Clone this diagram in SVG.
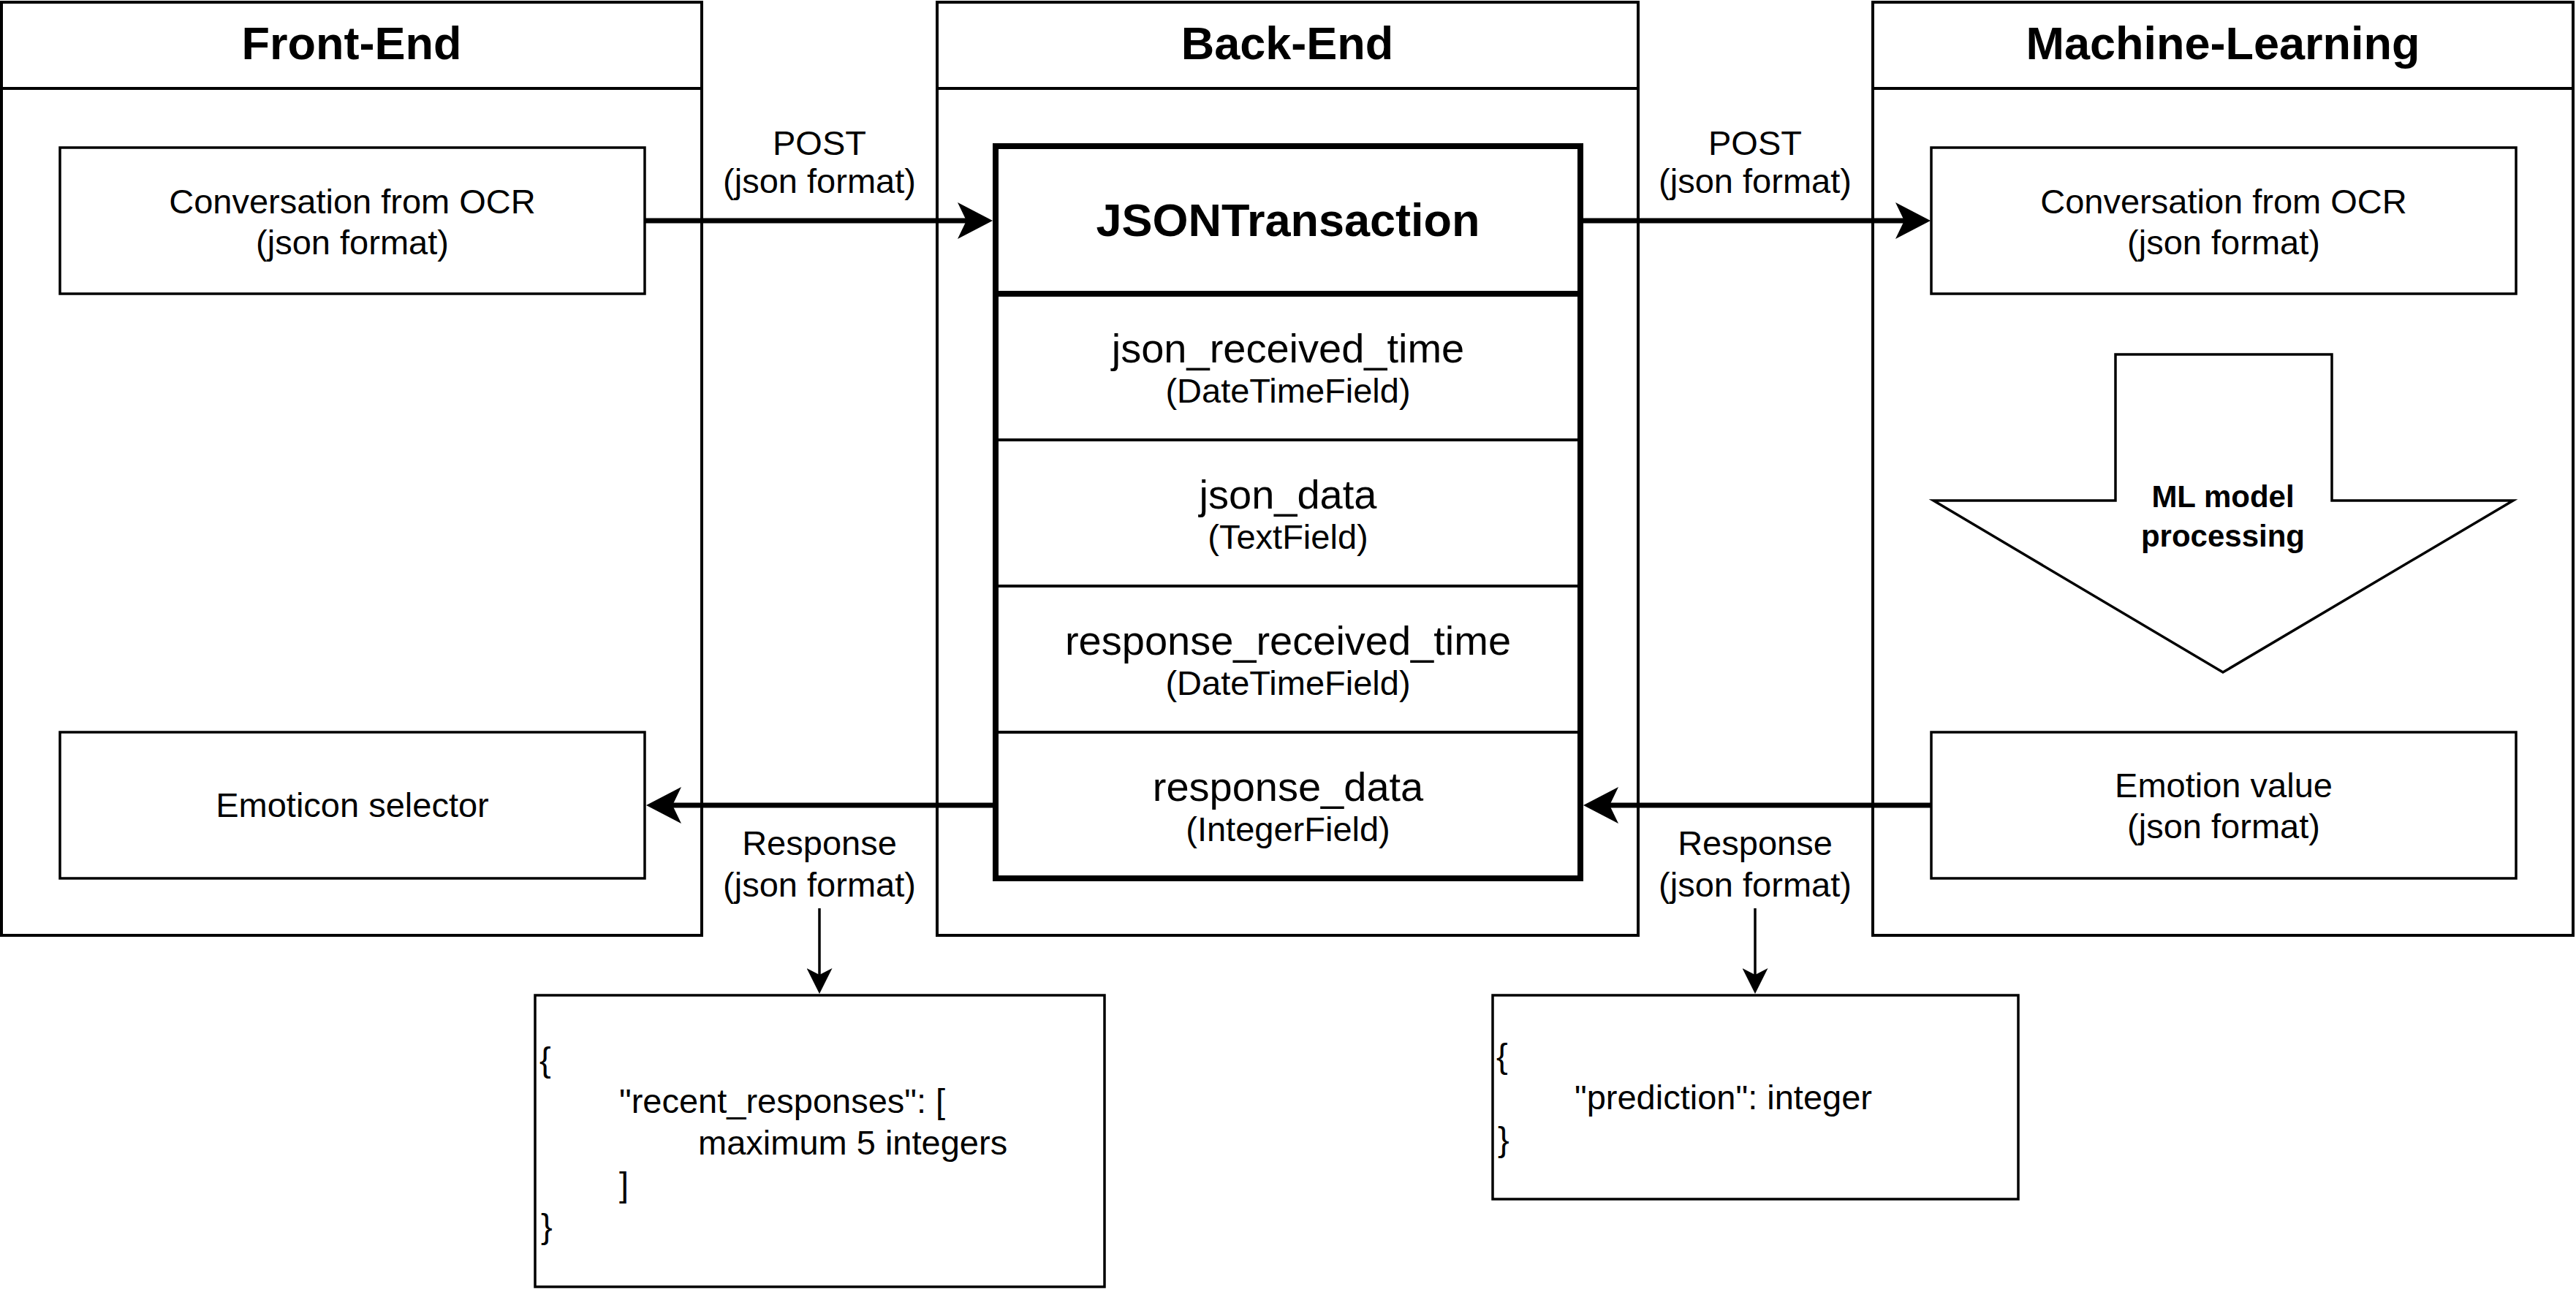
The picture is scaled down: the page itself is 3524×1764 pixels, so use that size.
<svg xmlns="http://www.w3.org/2000/svg" width="3524" height="1764" viewBox="0 0 3524 1764">
<style>
text{font-family:"Liberation Sans",Arial,Helvetica,sans-serif;fill:#000}
.lane{fill:#fff;stroke:#000;stroke-width:4}
.box{fill:#fff;stroke:#000;stroke-width:3.5}
.title{font-size:63px;font-weight:bold;text-anchor:middle}
.t{font-size:47px;text-anchor:middle}
.tl{font-size:47px}
.f{font-size:56px;text-anchor:middle}
.thick{fill:none;stroke:#000;stroke-width:7}
.thin{fill:none;stroke:#000;stroke-width:3.5}
</style>
<defs>
<marker id="ahThick" markerUnits="userSpaceOnUse" markerWidth="48" markerHeight="50" viewBox="0 0 48 50" refX="12" refY="25" orient="auto">
<path d="M0,0 L48,25 L0,50 L12,25 Z" fill="#000"/>
</marker>
<marker id="ahThin" markerUnits="userSpaceOnUse" markerWidth="35" markerHeight="35" viewBox="0 0 35 35" refX="9" refY="17.5" orient="auto">
<path d="M0,0 L35,17.5 L0,35 L9,17.5 Z" fill="#000"/>
</marker>
</defs>
<rect width="3524" height="1764" fill="#fff"/>

<g id="lane-frontend">
<rect class="lane" x="2" y="3" width="958" height="1277"/>
<line x1="2" y1="121" x2="960" y2="121" stroke="#000" stroke-width="4"/>
<text class="title" x="481" y="81">Front-End</text>
</g>
<g id="lane-backend">
<rect class="lane" x="1282" y="3" width="959" height="1277"/>
<line x1="1282" y1="121" x2="2241" y2="121" stroke="#000" stroke-width="4"/>
<text class="title" x="1761" y="81">Back-End</text>
</g>
<g id="lane-ml">
<rect class="lane" x="2562" y="3" width="958" height="1277"/>
<line x1="2562" y1="121" x2="3520" y2="121" stroke="#000" stroke-width="4"/>
<text class="title" x="3041" y="81">Machine-Learning</text>
</g>

<g id="fe-conversation">
<rect class="box" x="82" y="202" width="800" height="200"/>
<text class="t" x="482" y="292">Conversation from OCR</text>
<text class="t" x="482" y="348">(json format)</text>
</g>
<g id="fe-emoticon">
<rect class="box" x="82" y="1002" width="800" height="200"/>
<text class="t" x="482" y="1118">Emoticon selector</text>
</g>

<g id="be-jsontransaction">
<rect x="1362" y="200" width="800" height="1002" fill="#fff" stroke="#000" stroke-width="8"/>
<line x1="1362" y1="402" x2="2162" y2="402" stroke="#000" stroke-width="8"/>
<line x1="1362" y1="602" x2="2162" y2="602" stroke="#000" stroke-width="4"/>
<line x1="1362" y1="802" x2="2162" y2="802" stroke="#000" stroke-width="4"/>
<line x1="1362" y1="1002" x2="2162" y2="1002" stroke="#000" stroke-width="4"/>
<text class="title" x="1762" y="323">JSONTransaction</text>
<text class="f" x="1762" y="496">json_received_time</text>
<text class="t" x="1762" y="551">(DateTimeField)</text>
<text class="f" x="1762" y="696">json_data</text>
<text class="t" x="1762" y="751">(TextField)</text>
<text class="f" x="1762" y="896">response_received_time</text>
<text class="t" x="1762" y="951">(DateTimeField)</text>
<text class="f" x="1762" y="1096">response_data</text>
<text class="t" x="1762" y="1151">(IntegerField)</text>
</g>

<g id="ml-conversation">
<rect class="box" x="2642" y="202" width="800" height="200"/>
<text class="t" x="3042" y="292">Conversation from OCR</text>
<text class="t" x="3042" y="348">(json format)</text>
</g>
<g id="ml-processing">
<polygon points="2894,485 3190,485 3190,685 3438,685 3041,920 2645,685 2894,685" fill="#fff" stroke="#000" stroke-width="3.5"/>
<text x="3041" y="694" font-size="42" font-weight="bold" text-anchor="middle">ML model</text>
<text x="3041" y="748" font-size="42" font-weight="bold" text-anchor="middle">processing</text>
</g>
<g id="ml-emotion">
<rect class="box" x="2642" y="1002" width="800" height="200"/>
<text class="t" x="3042" y="1091">Emotion value</text>
<text class="t" x="3042" y="1147">(json format)</text>
</g>

<g id="json-recent">
<rect class="box" x="732" y="1362" width="779" height="399"/>
<text class="tl" x="738" y="1466">{</text>
<text class="tl" x="847" y="1523">"recent_responses": [</text>
<text class="tl" x="955" y="1580">maximum 5 integers</text>
<text class="tl" x="847" y="1637">]</text>
<text class="tl" x="740" y="1694">}</text>
</g>
<g id="json-prediction">
<rect class="box" x="2042" y="1362" width="719" height="279"/>
<text class="tl" x="2047" y="1461">{</text>
<text class="tl" x="2154" y="1518">"prediction": integer</text>
<text class="tl" x="2049" y="1575">}</text>
</g>

<g id="connectors">
<line class="thick" x1="882" y1="302" x2="1322" y2="302" marker-end="url(#ahThick)"/>
<line class="thick" x1="2162" y1="302" x2="2605" y2="302" marker-end="url(#ahThick)"/>
<line class="thick" x1="2642" y1="1102" x2="2202" y2="1102" marker-end="url(#ahThick)"/>
<line class="thick" x1="1362" y1="1102" x2="920" y2="1102" marker-end="url(#ahThick)"/>
<line class="thin" x1="1121" y1="1243" x2="1121" y2="1334" marker-end="url(#ahThin)"/>
<line class="thin" x1="2401" y1="1243" x2="2401" y2="1334" marker-end="url(#ahThin)"/>
<text class="t" x="1121" y="212">POST</text>
<text class="t" x="1121" y="264">(json format)</text>
<text class="t" x="2401" y="212">POST</text>
<text class="t" x="2401" y="264">(json format)</text>
<text class="t" x="1121" y="1170">Response</text>
<text class="t" x="1121" y="1227">(json format)</text>
<text class="t" x="2401" y="1170">Response</text>
<text class="t" x="2401" y="1227">(json format)</text>
</g>
</svg>
